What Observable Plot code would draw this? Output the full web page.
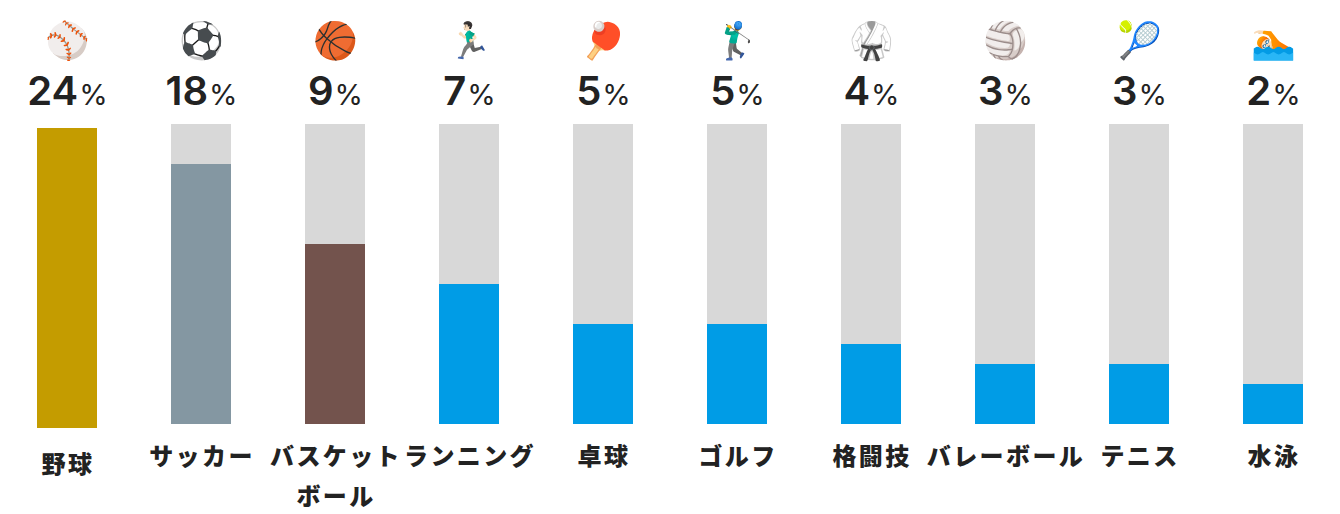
<!DOCTYPE html>
<html lang="ja"><head><meta charset="utf-8">
<script src="https://cdn.jsdelivr.net/npm/d3@7"></script>
<script src="https://cdn.jsdelivr.net/npm/@observablehq/plot@0.6"></script>
<style>html,body{margin:0;background:#fff}svg{display:block}.lab text{letter-spacing:2.4px}</style>
</head><body><div id="c"></div><script>
const categories = ["野球","サッカー","バスケット\nボール","ランニング","卓球","ゴルフ","格闘技","バレーボール","テニス","水泳"];
const emoji = ["⚾","⚽","🏀","🏃🏻‍♂️","🏓","🏌️‍♂️","🥋","🏐","🎾","🏊🏻"];
const shares = [24,18,9,7,5,5,4,3,3,2];
const barLevels = [15,13,9,7,5,5,4,3,3,2];
const barColors = ["#c49c00","#8497a2","#73534d","#009ce6","#009ce6","#009ce6","#009ce6","#009ce6","#009ce6","#009ce6"];
const trackMax = 15;
const rows = categories.map((c,i)=>({c,e:emoji[i],s:shares[i],v:barLevels[i],col:barColors[i]}));
const first = rows.slice(0,1), rest = rows.slice(1);
const font = '"Noto Sans CJK JP",sans-serif';
const plot = Plot.plot({
  width:1340,height:514,marginTop:124,marginBottom:90,marginLeft:0,marginRight:0,
  x:{domain:categories,paddingInner:.552,paddingOuter:.276,axis:null,label:null},
  y:{domain:[0,trackMax],axis:null,label:null},
  marks:[
    Plot.barY(rest,{x:"c",y:()=>trackMax,fill:"#d8d8d8"}),
    Plot.barY(rest,{x:"c",y:"v",fill:"col"}),
    Plot.barY(first,{x:"c",y:"v",fill:"col",dy:4}),
    Plot.text(rows,{x:"c",text:"e",frameAnchor:"top",dy:-97,fontSize:36,fontFamily:'"Noto Color Emoji","Noto Sans",sans-serif'}),
    Plot.text(rows,{x:"c",text:d=>d.s+"%",frameAnchor:"top",dy:-48,fontSize:40,fontWeight:600,fill:"#222",fontFamily:"Inter,sans-serif",className:"pct"}),
    Plot.text(rest,{x:"c",text:"c",frameAnchor:"bottom",lineAnchor:"top",dy:12,dx:0.5,fontSize:24,fontWeight:900,fill:"#222",lineHeight:1.667,fontFamily:font,className:"lab"}),
    Plot.text(first,{x:"c",text:"c",frameAnchor:"bottom",lineAnchor:"top",dy:31,dx:0.5,fontSize:24,fontWeight:900,fill:"#222",fontFamily:font,className:"lab"})
  ]
});
d3.select(plot).selectAll("g.pct text").each(function(){
  const t=this.textContent, el=d3.select(this); el.text(null);
  el.append("tspan").text(t.slice(0,-1));
  el.append("tspan").attr("dx",1).attr("font-size",29).attr("font-weight",400).text("%");
});
document.getElementById("c").append(plot);
</script></body></html>
